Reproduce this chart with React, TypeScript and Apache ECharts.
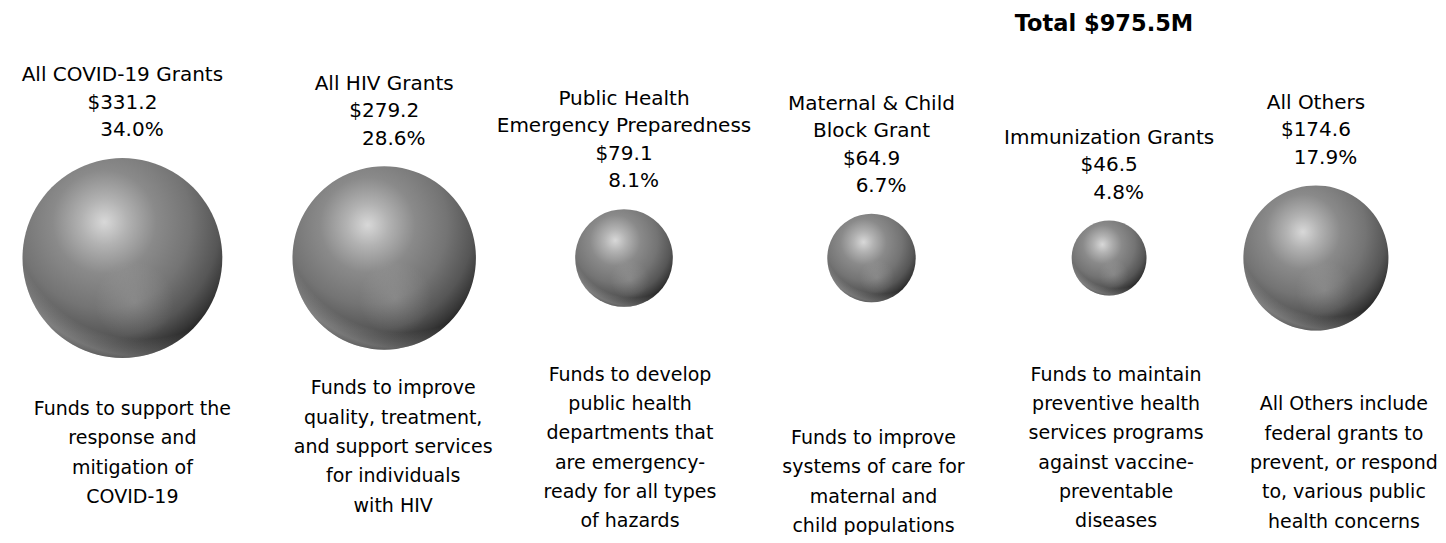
import React, { useEffect, useRef } from "react";
import * as echarts from "echarts";

// ---- data ----
const categories = [
  "All COVID-19 Grants",
  "All HIV Grants",
  "Public Health\nEmergency Preparedness",
  "Maternal & Child\nBlock Grant",
  "Immunization Grants",
  "All Others",
];
const amounts = [331.2, 279.2, 79.1, 64.9, 46.5, 174.6]; // $M
const shares = [34.0, 28.6, 8.1, 6.7, 4.8, 17.9]; // %
const xPositions = [1.04, 3.42, 5.6, 7.85, 10.01, 11.89]; // bubble x values
const yPositions = [1, 1, 1, 1, 1, 1];
const totalAmount = 975.5;
const descriptions = [
  "Funds to support the\nresponse and\nmitigation of\nCOVID-19",
  "Funds to improve\nquality, treatment,\nand support services\nfor individuals\nwith HIV",
  "Funds to develop\npublic health\ndepartments that\nare emergency-\nready for all types\nof hazards",
  "Funds to improve\nsystems of care for\nmaternal and\nchild populations",
  "Funds to maintain\npreventive health\nservices programs\nagainst vaccine-\npreventable\ndiseases",
  "All Others include\nfederal grants to\nprevent, or respond\nto, various public\nhealth concerns",
];

// ---- layout / style ----
const FONT = '"DejaVu Sans", "Noto Sans", sans-serif';
const SIZE_K = 10.98; // diameter per sqrt($M)
const descOffsetX = [10, 9, 6, 2, 7, 28];
const descCenterY = [444, 438, 439, 473, 439, 454];

export default function App() {
  const ref = useRef<HTMLDivElement>(null);

  useEffect(() => {
    if (!ref.current) return;
    const chart = echarts.init(ref.current, null, { renderer: "svg" });

    const data = categories.map((name, i) => ({
      name,
      value: [xPositions[i], yPositions[i], amounts[i], shares[i]],
    }));

    const sizeFn = (v: number[]) => SIZE_K * Math.sqrt(v[2]);

    const baseGradient = {
      type: "radial",
      x: 0.41,
      y: 0.32,
      r: 0.72,
      colorStops: [
        { offset: 0, color: "#d8d8d8" },
        { offset: 0.16, color: "#b2b2b2" },
        { offset: 0.36, color: "#8a8a8a" },
        { offset: 0.6, color: "#747474" },
        { offset: 0.8, color: "#565656" },
        { offset: 0.92, color: "#363636" },
        { offset: 1, color: "#1c1c1c" },
      ],
    };
    const rimGradient = {
      type: "radial",
      x: 0.6,
      y: 0.25,
      r: 0.78,
      colorStops: [
        { offset: 0, color: "rgba(200,200,200,0)" },
        { offset: 0.84, color: "rgba(200,200,200,0)" },
        { offset: 0.95, color: "rgba(205,205,205,0.35)" },
        { offset: 1, color: "rgba(215,215,215,0.25)" },
      ],
    };
    const spotGradient = {
      type: "radial",
      x: 0.56,
      y: 0.72,
      r: 0.2,
      colorStops: [
        { offset: 0, color: "rgba(255,255,255,0.14)" },
        { offset: 1, color: "rgba(255,255,255,0)" },
      ],
    };

    chart.setOption({
      animation: false,
      grid: { left: 0, right: 0, top: 0, height: 500 },
      xAxis: { type: "value", min: 0, max: 13, show: false },
      yAxis: { type: "value", min: 0, max: 2, show: false },
      series: [
        {
          type: "scatter",
          data,
          symbolSize: sizeFn,
          itemStyle: { color: baseGradient, opacity: 1 },
          label: {
            show: true,
            position: "top",
            distance: 15,
            align: "center",
            color: "#000",
            fontFamily: FONT,
            fontSize: 20,
            lineHeight: 27.5,
            formatter: (p: any) =>
              `${p.name}\n$${p.value[2].toFixed(1)}\n\u00a0\u00a0\u00a0${p.value[3].toFixed(1)}%`,
          },
          emphasis: { disabled: true },
          z: 2,
        },
        {
          type: "scatter",
          data,
          symbolSize: sizeFn,
          itemStyle: { color: rimGradient, opacity: 1 },
          silent: true,
          emphasis: { disabled: true },
          z: 3,
        },
        {
          type: "scatter",
          data,
          symbolSize: sizeFn,
          itemStyle: { color: spotGradient, opacity: 1 },
          silent: true,
          emphasis: { disabled: true },
          z: 4,
        },
      ],
    });

    const graphics: any[] = [
      {
        type: "text",
        x: 1096,
        y: 15,
        style: {
          text: `Total $${totalAmount.toFixed(1)}M`,
          align: "center",
          verticalAlign: "middle",
          textAlign: "center",
          textVerticalAlign: "middle",
          font: `bold 22.5px ${FONT}`,
          fill: "#000",
        },
      },
    ];

    descriptions.forEach((d, i) => {
      const px = chart.convertToPixel({ gridIndex: 0 }, [xPositions[i], yPositions[i]]) as number[];
      graphics.push({
        type: "text",
        x: px[0] + descOffsetX[i],
        y: descCenterY[i],
        style: {
          text: d,
          align: "center",
          verticalAlign: "middle",
          textAlign: "center",
          textVerticalAlign: "middle",
          font: `19px ${FONT}`,
          lineHeight: 29.3,
          fill: "#000",
        },
      });
    });

    chart.setOption({ graphic: graphics });

    return () => chart.dispose();
  }, []);

  return <div ref={ref} style={{ width: 1430, height: 527 }} />;
}
